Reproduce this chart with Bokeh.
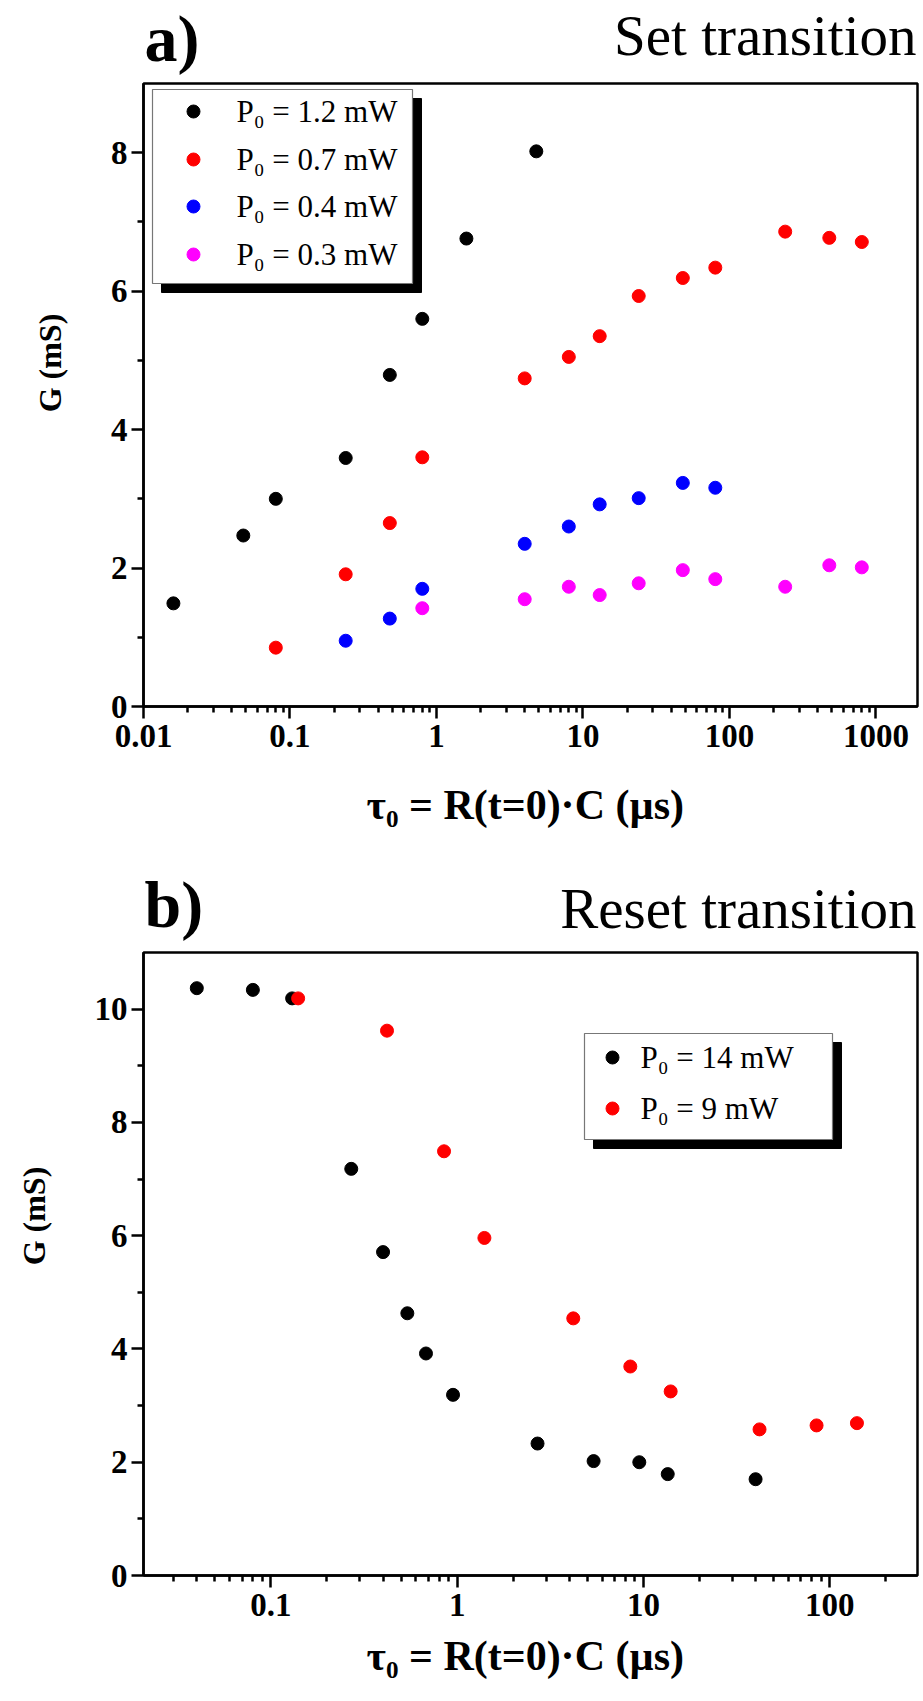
import math
from bokeh.plotting import figure
from bokeh.layouts import column
from bokeh.models import Range1d, FixedTicker, CustomJSTickFormatter, ColumnDataSource
from bokeh.core.properties import value
from bokeh.embed import file_html
from bokeh.resources import INLINE

# ---------------- data ----------------
# panel a) Set transition
a_x_12 = [0.016, 0.048, 0.08, 0.24, 0.48, 0.8, 1.6, 4.8]
a_y_12 = [1.49, 2.47, 3.0, 3.59, 4.79, 5.6, 6.76, 8.02]
a_x_07 = [0.08, 0.24, 0.48, 0.8, 4.0, 8.0, 13, 24, 48, 80, 240, 480, 800]
a_y_07 = [0.85, 1.91, 2.65, 3.6, 4.74, 5.05, 5.35, 5.93, 6.19, 6.34, 6.86, 6.77, 6.71]
a_x_04 = [0.24, 0.48, 0.8, 4.0, 8.0, 13, 24, 48, 80]
a_y_04 = [0.95, 1.27, 1.7, 2.35, 2.6, 2.92, 3.01, 3.23, 3.16]
a_x_03 = [0.8, 4.0, 8.0, 13, 24, 48, 80, 240, 480, 800]
a_y_03 = [1.42, 1.55, 1.73, 1.61, 1.78, 1.97, 1.84, 1.73, 2.04, 2.01]
a_labels = ["P\u2080 = 1.2 mW", "P\u2080 = 0.7 mW", "P\u2080 = 0.4 mW", "P\u2080 = 0.3 mW"]
a_colors = ["#000000", "#ff0000", "#0000ff", "#ff00ff"]

# panel b) Reset transition
b_x_14 = [0.04, 0.08, 0.13, 0.27, 0.4, 0.54, 0.68, 0.95, 2.7, 5.4, 9.5, 13.5, 40]
b_y_14 = [10.37, 10.34, 10.19, 7.18, 5.71, 4.63, 3.92, 3.19, 2.33, 2.02, 2.0, 1.79, 1.7]
b_x_9 = [0.14, 0.42, 0.85, 1.4, 4.2, 8.5, 14, 42, 85, 140]
b_y_9 = [10.19, 9.62, 7.49, 5.96, 4.54, 3.69, 3.25, 2.58, 2.65, 2.69]
b_labels = ["P\u2080 = 14 mW", "P\u2080 = 9 mW"]
b_colors = ["#000000", "#ff0000"]

a_xticks = [0.01, 0.1, 1, 10, 100, 1000]
b_xticks = [0.1, 1, 10, 100]

SERIF = "Liberation Serif"
XLABEL = "\u03c4\u2080 = R(t=0)\u00b7C  (\u00b5s)"
YLABEL = "G (mS)"
NB = "\u00a0"

W = 923
ML, MR = 143, 6
FS_LEFT, FS_RIGHT = 66, 57


def minor_log(lo_exp, hi_exp):
    out = []
    for e in range(lo_exp, hi_exp + 1):
        for m in range(2, 10):
            out.append(m * 10.0 ** e)
    return out


def header(h, left_txt, right_txt, base_left, base_right):
    hf = figure(width=W, height=h, title=None,
                x_range=Range1d(ML, W - MR), y_range=Range1d(h, 0),
                output_backend="svg", toolbar_location=None,
                x_axis_location=None, y_axis_location=None,
                min_border_left=ML, min_border_right=MR,
                min_border_top=0, min_border_bottom=0)
    hf.grid.visible = False
    hf.outline_line_color = None
    hf.background_fill_color = "white"
    hf.border_fill_color = "white"
    # vertical centre of each text, from the wanted baseline
    yl = base_left - 0.3375 * FS_LEFT
    yr = base_right - 0.3375 * FS_RIGHT
    hf.text([ML + 1], [yl], text=[left_txt], text_font=value(SERIF),
            text_font_style="bold", text_font_size=f"{FS_LEFT}px", text_align="left",
            text_baseline="middle", text_color="black")
    hf.text([W - MR - 1], [yr], text=[right_txt], text_font=value(SERIF),
            text_font_size=f"{FS_RIGHT}px", text_align="right",
            text_baseline="middle", text_color="black")
    return hf


def make_panel(h, top, bottom, xr, yr, xticks, minor, ymax_tick, xl_standoff, ypad):
    p = figure(width=W, height=h, x_axis_type="log", title=None,
               x_range=Range1d(*xr), y_range=Range1d(*yr),
               output_backend="svg", toolbar_location=None,
               min_border_left=ML, min_border_right=MR,
               min_border_top=top, min_border_bottom=bottom)
    p.grid.visible = False
    p.background_fill_color = "white"
    p.border_fill_color = "white"
    p.outline_line_color = "black"
    p.outline_line_width = 2.5
    p.outline_line_alpha = 1.0
    p.xaxis.ticker = FixedTicker(ticks=xticks, minor_ticks=minor)
    p.xaxis.formatter = CustomJSTickFormatter(code="return tick.toString();")
    p.yaxis.ticker = FixedTicker(ticks=list(range(0, ymax_tick + 1, 2)),
                                 minor_ticks=list(range(1, ymax_tick + 1, 2)))
    for ax in (p.xaxis[0], p.yaxis[0]):
        ax.axis_line_width = 2.5
        ax.major_tick_line_width = 2.5
        ax.minor_tick_line_width = 2.5
        ax.major_tick_out = 12
        ax.major_tick_in = 0
        ax.minor_tick_out = 6
        ax.minor_tick_in = 0
        ax.major_label_text_font = SERIF
        ax.major_label_text_font_style = "bold"
        ax.major_label_text_font_size = "33px"
        ax.major_label_text_color = "black"
        ax.axis_label_text_font = SERIF
        ax.axis_label_text_font_style = "bold"
        ax.axis_label_text_color = "black"
    p.xaxis.major_label_standoff = 6
    p.yaxis.major_label_standoff = 4
    p.xaxis.axis_label = XLABEL
    p.xaxis.axis_label_text_font_size = "42px"
    p.xaxis.axis_label_standoff = xl_standoff
    p.yaxis.axis_label = NB * ypad + YLABEL
    p.yaxis.axis_label_text_font_size = "32px"
    p.yaxis.axis_label_standoff = 40
    return p


def mapper(xr, yr, frame_top, frame_bottom):
    lx0, lx1 = math.log10(xr[0]), math.log10(xr[1])
    fw = W - ML - MR

    def fx(px):
        return 10 ** (lx0 + (px - ML) / fw * (lx1 - lx0))

    def fy(py):
        return yr[0] + (frame_bottom - py) / (frame_bottom - frame_top) * (yr[1] - yr[0])
    return fx, fy


def add_legend(p, fx, fy, box, row_ys, mx, tx, labels, colors, fs):
    l, t, r, b = box
    sh = 9
    p.quad(left=[fx(l + sh)], right=[fx(r + sh)], top=[fy(t + sh)], bottom=[fy(b + sh)],
           fill_color="black", line_color="black")
    p.quad(left=[fx(l)], right=[fx(r)], top=[fy(t)], bottom=[fy(b)],
           fill_color="white", line_color="#777777", line_width=1.2)
    for ry, lab, c in zip(row_ys, labels, colors):
        p.scatter([fx(mx)], [fy(ry)], size=13, fill_color=c, line_color=c)
        p.text([fx(tx)], [fy(ry)], text=[lab], text_font=value(SERIF),
               text_font_size=fs, text_baseline="middle", text_align="left",
               text_color="black")


def add_series(p, xs, ys, color):
    src = ColumnDataSource(dict(x=xs, y=ys))
    p.scatter("x", "y", source=src, size=13, fill_color=color, line_color=color,
              line_width=1)


# ---------------- panel a ----------------
HHA = 80                     # header height (page 0..80)
HA = 770                     # panel height (page 80..850)
a_xr = (0.01, 1920.0)
a_yr = (0.0, 9.0)
a_top, a_bot = 3, 706 - HHA  # frame in panel coords
ha = header(HHA, "a)", "Set transition", 60, 54)
pa = make_panel(HA, a_top, HA - a_bot, a_xr, a_yr, a_xticks, minor_log(-2, 3), 8,
                32, 8)
fxa, fya = mapper(a_xr, a_yr, a_top, a_bot)
for xs, ys, c in zip([a_x_12, a_x_07, a_x_04, a_x_03],
                     [a_y_12, a_y_07, a_y_04, a_y_03], a_colors):
    add_series(pa, xs, ys, c)
add_legend(pa, fxa, fya, (152, 89 - HHA, 412, 283 - HHA),
           [111 - HHA, 159 - HHA, 206 - HHA, 254 - HHA], 193, 236,
           a_labels, a_colors, "31px")

# ---------------- panel b ----------------
HHB = 99                      # header (page 850..949)
HB = 1701 - 850 - HHB         # panel (page 949..1701)
OB = 850 + HHB
b_xr = (0.0207, 296.0)
b_yr = (0.0, 11.0)
b_top, b_bot = 952 - OB, 1575 - OB
hb = header(HHB, "b)", "Reset transition", 76, 77)
pb = make_panel(HB, b_top, HB - b_bot, b_xr, b_yr, b_xticks, minor_log(-2, 2), 10,
                14, 12)
fxb, fyb = mapper(b_xr, b_yr, b_top, b_bot)
for xs, ys, c in zip([b_x_14, b_x_9], [b_y_14, b_y_9], b_colors):
    add_series(pb, xs, ys, c)
add_legend(pb, fxb, fyb, (584, 1033 - OB, 832, 1139 - OB),
           [1057 - OB, 1108 - OB], 612, 640, b_labels, b_colors, "31px")

layout = column(ha, pa, hb, pb, spacing=0)
open("out.html", "w").write(file_html(layout, INLINE))
